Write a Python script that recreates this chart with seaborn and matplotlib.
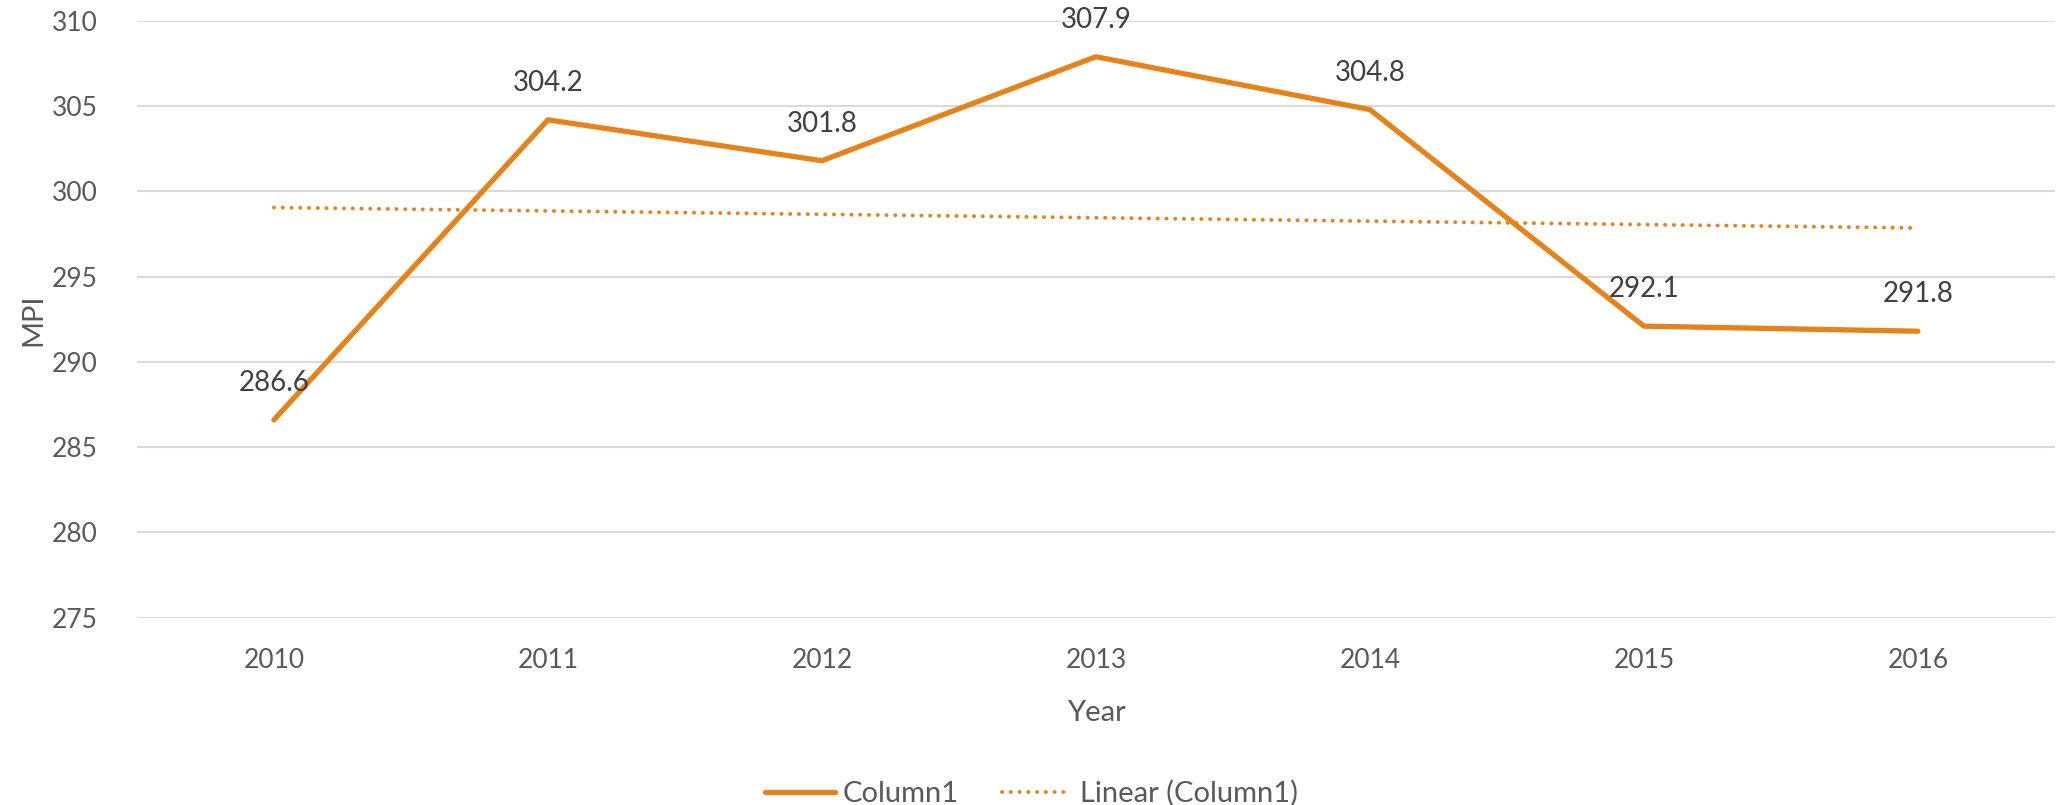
import numpy as np
import pandas as pd
import matplotlib.pyplot as plt
import seaborn as sns

#chart data
years = ['2010', '2011', '2012', '2013', '2014', '2015', '2016']
mpi = [286.6, 304.2, 301.8, 307.9, 304.8, 292.1, 291.8]
y_ticks = [275, 280, 285, 290, 295, 300, 305, 310]

df = pd.DataFrame({'pos': np.arange(len(years)), 'year': years, 'MPI': mpi})

orange = '#E5821A'

sns.set_theme(style='white')
plt.rcParams['font.family'] = ['Lato', 'DejaVu Sans']

fig = plt.figure(figsize=(20.59, 8.05), dpi=100)
ax = fig.add_axes([0.0665, 0.2327, 0.9315, 0.7413])

#main line
sns.lineplot(data=df, x='pos', y='MPI', ax=ax, color=orange, linewidth=3.8,
             solid_capstyle='round', solid_joinstyle='round', label='Column1')

#linear trendline
sns.regplot(data=df, x='pos', y='MPI', ax=ax, scatter=False, ci=None, truncate=True,
            label='Linear (Column1)',
            line_kws={'color': orange, 'linewidth': 2.8, 'linestyle': (0, (0.05, 2.2)),
                      'dash_capstyle': 'round'})

#data labels
for i, v in enumerate(mpi):
    ax.annotate(f'{v:.1f}', (i, v), xytext=(0, 26.5), textcoords='offset points',
                ha='center', va='center', fontsize=20, color='#404040')

ax.set_xlim(-0.5, len(years) - 0.5)
ax.set_ylim(275, 310)
ax.set_xticks(df['pos'])
ax.set_xticklabels(years)
ax.set_yticks(y_ticks)
ax.tick_params(axis='both', labelsize=19, colors='#595959', length=0)
ax.tick_params(axis='x', pad=22)
ax.tick_params(axis='y', pad=28)
ax.yaxis.grid(True, color='#D9D9D9', linewidth=1.5)
ax.xaxis.grid(False)
for s in ax.spines.values():
    s.set_visible(False)

ax.set_xlabel('Year', fontsize=21, color='#595959', labelpad=19)
ax.set_ylabel('MPI', fontsize=21, color='#595959', labelpad=4)

handles, labels = ax.get_legend_handles_labels()
if ax.legend_:
    ax.legend_.remove()
fig.legend(handles, labels, loc='center', bbox_to_anchor=(0.501, 0.014), ncol=2,
           frameon=False, fontsize=21, labelcolor='#595959', handlelength=2.4,
           columnspacing=1.5, handletextpad=0.25)

fig.savefig('out.png', dpi=100)
